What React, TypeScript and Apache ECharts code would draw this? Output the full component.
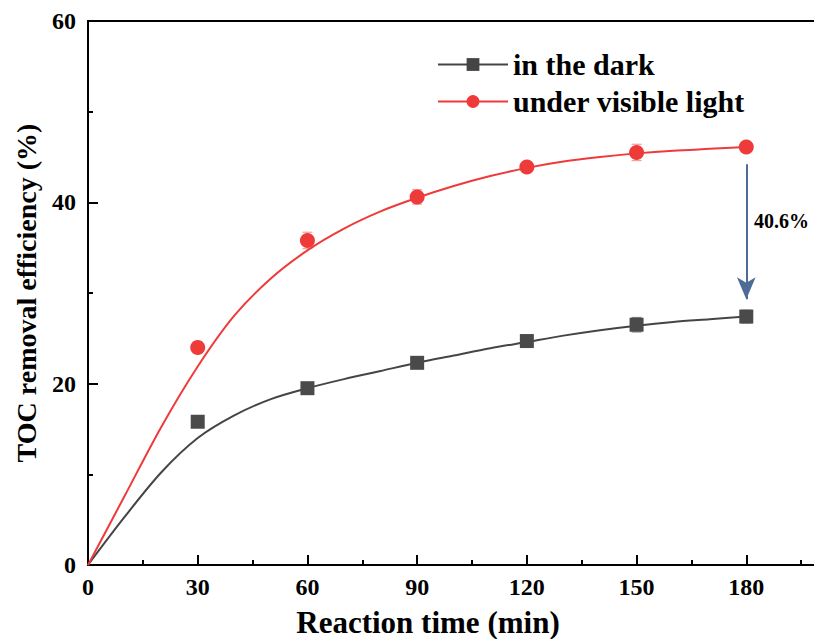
import React, { useEffect, useRef } from "react";
import * as echarts from "echarts";

// measured data points
const pointTime = [30, 60, 90, 120, 150, 180];
const darkValues = [15.8, 19.5, 22.3, 24.7, 26.5, 27.4];
const darkErrors = [0.3, 0.3, 0.5, 0.6, 0.8, 0.7];
const lightValues = [24.0, 35.8, 40.6, 43.9, 45.5, 46.1];
const lightErrors = [0.6, 0.9, 0.8, 0.3, 0.9, 0.3];

// fitted curves
const fitTime = [0, 10, 20, 30, 40, 50, 60, 70, 80, 90, 100, 110, 120, 130, 140, 150, 160, 170, 180];
const darkFit = [0, 5.3, 10.2, 14.0, 16.5, 18.3, 19.5, 20.5, 21.4, 22.3, 23.1, 23.9, 24.6, 25.3, 25.9, 26.4, 26.8, 27.1, 27.4];
const lightFit = [0, 7.6, 15.2, 21.9, 27.5, 31.6, 34.7, 37.1, 39.0, 40.5, 41.8, 42.9, 43.8, 44.5, 45.0, 45.4, 45.7, 45.9, 46.1];

// annotation
const arrowTime = 180;
const arrowFrom = 44.2;
const arrowTo = 29.3;
const annotationText = "40.6%";

const xTicks = [0, 30, 60, 90, 120, 150, 180];
const yTicks = [0, 20, 40, 60];

const seriesNames = ["in the dark", "under visible light"];
const xTitle = "Reaction time (min)";
const yTitle = "TOC removal efficiency (%)";

const FONT = "'Liberation Serif', 'Times New Roman', serif";
const DARK = "#454545";
const RED = "#ef3a3a";

function errorBarSeries(values: number[], errors: number[], color: string) {
  return {
    type: "custom",
    silent: true,
    z: 1,
    renderItem: (params: any, api: any) => {
      const x = api.value(0);
      const lo = api.coord([x, api.value(1)]);
      const hi = api.coord([x, api.value(2)]);
      const cw = 5;
      const st = { stroke: color, lineWidth: 1.2 };
      return {
        type: "group",
        children: [
          { type: "line", shape: { x1: lo[0], y1: lo[1], x2: hi[0], y2: hi[1] }, style: st },
          { type: "line", shape: { x1: lo[0] - cw, y1: lo[1], x2: lo[0] + cw, y2: lo[1] }, style: st },
          { type: "line", shape: { x1: hi[0] - cw, y1: hi[1], x2: hi[0] + cw, y2: hi[1] }, style: st },
        ],
      };
    },
    encode: { x: 0, y: [1, 2] },
    data: pointTime.map((t, i) => [t, values[i] - errors[i], values[i] + errors[i]]),
  };
}

export default function App() {
  const ref = useRef<HTMLDivElement>(null);
  useEffect(() => {
    if (!ref.current) return;
    const chart = echarts.init(ref.current, undefined, { renderer: "svg" });
    const axisLine = { show: true, lineStyle: { color: "#000", width: 2 } };
    const option: any = {
      animation: false,
      backgroundColor: "#fff",
      grid: { left: 88, top: 21, right: -42, bottom: 74, containLabel: false, outerBoundsMode: "none" },
      legend: {
        orient: "vertical",
        left: 437,
        top: 46,
        padding: 0,
        itemWidth: 70,
        itemHeight: 16,
        itemGap: 0,
        data: seriesNames,
        textStyle: { fontFamily: FONT, fontWeight: "bold", fontSize: 30, color: "#000", lineHeight: 37 },
      },
      xAxis: [
        {
          type: "value",
          min: 0,
          max: 210,
          interval: 30,
          name: xTitle,
          nameLocation: "middle",
          nameGap: 42,
          nameTextStyle: {
            fontFamily: FONT, fontWeight: "bold", fontSize: 31, color: "#000",
            padding: [0, 88, 0, 0],
          },
          axisLine,
          axisTick: { show: true, inside: true, length: 10, lineStyle: { color: "#000", width: 2 } },
          minorTick: { show: true, splitNumber: 2, length: 5, lineStyle: { color: "#000", width: 2 } },
          axisLabel: {
            fontFamily: FONT, fontWeight: "bold", fontSize: 24, color: "#000", margin: 10,
            formatter: (v: number) => (xTicks.indexOf(v) >= 0 ? String(v) : ""),
          },
          splitLine: { show: false },
          minorSplitLine: { show: false },
        },
        {
          type: "value",
          position: "top",
          min: 0,
          max: 210,
          axisLine,
          axisTick: { show: false },
          axisLabel: { show: false },
          splitLine: { show: false },
        },
      ],
      yAxis: {
        type: "value",
        min: 0,
        max: 60,
        interval: 20,
        name: yTitle,
        nameLocation: "middle",
        nameGap: 48,
        nameTextStyle: { fontFamily: FONT, fontWeight: "bold", fontSize: 28, color: "#000" },
        axisLine,
        axisTick: { show: true, inside: true, length: 10, lineStyle: { color: "#000", width: 2 } },
        minorTick: { show: true, splitNumber: 2, length: 5, lineStyle: { color: "#000", width: 2 } },
        axisLabel: {
          fontFamily: FONT, fontWeight: "bold", fontSize: 24, color: "#000", margin: 12,
          formatter: (v: number) => (yTicks.indexOf(v) >= 0 ? String(v) : ""),
        },
        splitLine: { show: false },
      },
      series: [
        {
          name: seriesNames[0],
          type: "line",
          smooth: 0.3,
          showSymbol: false,
          symbol: "rect",
          symbolSize: 13,
          itemStyle: { color: DARK },
          lineStyle: { color: DARK, width: 2 },
          data: fitTime.map((t, i) => [t, darkFit[i]]),
          z: 2,
          markLine: {
            silent: true,
            symbol: ["none", "arrow"],
            symbolSize: [14, 22],
            lineStyle: { color: "#4f6c99", width: 2, type: "solid" },
            label: { show: false },
            data: [[{ coord: [arrowTime, arrowFrom] }, { coord: [arrowTime, arrowTo] }]],
          },
        },
        {
          name: seriesNames[1],
          type: "line",
          smooth: 0.3,
          showSymbol: false,
          symbol: "circle",
          symbolSize: 14,
          itemStyle: { color: RED },
          lineStyle: { color: RED, width: 2 },
          data: fitTime.map((t, i) => [t, lightFit[i]]),
          z: 2,
        },
        errorBarSeries(darkValues, darkErrors, "#8a8a8a"),
        errorBarSeries(lightValues, lightErrors, "#f4a0a0"),
        {
          type: "scatter",
          symbol: "rect",
          symbolSize: 14,
          itemStyle: { color: "#4a4a4a", opacity: 1 },
          data: pointTime.map((t, i) => [t, darkValues[i]]),
          z: 3,
        },
        {
          type: "scatter",
          symbol: "circle",
          symbolSize: 15,
          itemStyle: { color: RED, opacity: 1 },
          data: pointTime.map((t, i) => [t, lightValues[i]]),
          z: 3,
        },
      ],
      graphic: [
        {
          type: "text",
          left: 754,
          top: 211,
          style: { text: annotationText, fontFamily: FONT, fontWeight: "bold", fontSize: 20, fill: "#000" },
        },
      ],
    };
    chart.setOption(option);
    return () => chart.dispose();
  }, []);
  return (
    <div
      ref={ref}
      style={{ position: "fixed", left: 0, top: 0, width: 814, height: 639, background: "#fff" }}
    />
  );
}
